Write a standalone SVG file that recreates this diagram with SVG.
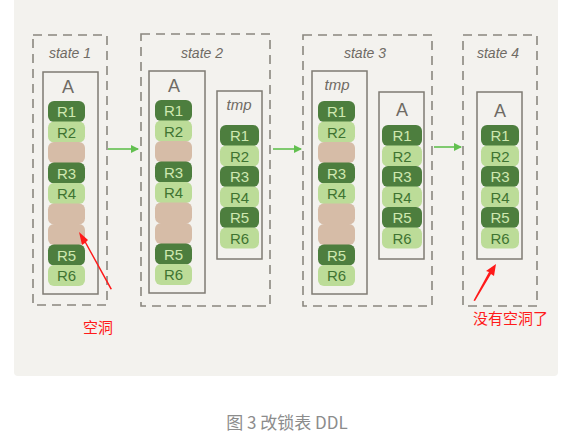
<svg xmlns="http://www.w3.org/2000/svg" width="587" height="438" viewBox="0 0 587 438">
<defs>
<style>
.state{fill:none;stroke:#8a877f;stroke-width:1.6;stroke-dasharray:9 6}
.tbl{fill:none;stroke:#7f7b73;stroke-width:1.5}
.lbl{font-family:"Liberation Sans",sans-serif;font-style:italic;font-size:14px;fill:#6f6b64;text-anchor:middle}
.tname{font-family:"Liberation Sans",sans-serif;font-size:18px;fill:#6f6b64;text-anchor:middle}
.tmpn{font-family:"Liberation Sans",sans-serif;font-style:italic;font-size:15px;fill:#6f6b64;text-anchor:middle}
.d{fill:#4d7e3e}
.l{fill:#bcdc98}
.h{fill:#d6bca7}
.dt{font-family:"Liberation Sans",sans-serif;font-size:15px;fill:#cfe8b0;text-anchor:middle}
.lt{font-family:"Liberation Sans",sans-serif;font-size:15px;fill:#3f7432;text-anchor:middle}
.ga{stroke:#62c04f;stroke-width:1.6;fill:none}
.red{font-family:"Liberation Sans","Noto Sans CJK SC",sans-serif;font-size:15px;fill:#ff1a1a}
</style>
<marker id="gh" markerWidth="8" markerHeight="8" refX="7" refY="4" orient="auto" markerUnits="userSpaceOnUse">
<path d="M0,0 L8,4 L0,8 Z" fill="#62c04f"/>
</marker>
</defs>
<rect x="14" y="-6" width="544" height="382" rx="4" fill="#f3f2ee"/>

<g id="state1">
<rect class="state" x="33" y="35" width="74" height="270"/>
<text class="lbl" x="70" y="58">state 1</text>
<rect class="tbl" x="43" y="72" width="55" height="222"/>
<text class="tname" x="68" y="93">A</text>
<rect class="d" x="48" y="101" width="37" height="21" rx="6"/><text class="dt" x="66.5" y="117">R1</text>
<rect class="l" x="48" y="121.5" width="37" height="21" rx="6"/><text class="lt" x="66.5" y="137.5">R2</text>
<rect class="h" x="48" y="142" width="37" height="21" rx="6"/>
<rect class="d" x="48" y="162.5" width="37" height="21" rx="6"/><text class="dt" x="66.5" y="178.5">R3</text>
<rect class="l" x="48" y="183" width="37" height="21" rx="6"/><text class="lt" x="66.5" y="199">R4</text>
<rect class="h" x="48" y="203.5" width="37" height="21" rx="6"/>
<rect class="h" x="48" y="224" width="37" height="21" rx="6"/>
<rect class="d" x="48" y="244.5" width="37" height="21" rx="6"/><text class="dt" x="66.5" y="260.5">R5</text>
<rect class="l" x="48" y="265" width="37" height="21" rx="6"/><text class="lt" x="66.5" y="281">R6</text>
</g>

<g id="state2">
<rect class="state" x="141" y="34" width="129" height="272"/>
<text class="lbl" x="202" y="58">state 2</text>
<rect class="tbl" x="149" y="71" width="56" height="222"/>
<text class="tname" x="174" y="92">A</text>
<rect class="d" x="155" y="100" width="37" height="21" rx="6"/><text class="dt" x="173.5" y="116">R1</text>
<rect class="l" x="155" y="120.5" width="37" height="21" rx="6"/><text class="lt" x="173.5" y="136.5">R2</text>
<rect class="h" x="155" y="141" width="37" height="21" rx="6"/>
<rect class="d" x="155" y="161.5" width="37" height="21" rx="6"/><text class="dt" x="173.5" y="177.5">R3</text>
<rect class="l" x="155" y="182" width="37" height="21" rx="6"/><text class="lt" x="173.5" y="198">R4</text>
<rect class="h" x="155" y="202.5" width="37" height="21" rx="6"/>
<rect class="h" x="155" y="223" width="37" height="21" rx="6"/>
<rect class="d" x="155" y="243.5" width="37" height="21" rx="6"/><text class="dt" x="173.5" y="259.5">R5</text>
<rect class="l" x="155" y="264" width="37" height="21" rx="6"/><text class="lt" x="173.5" y="280">R6</text>
<rect class="tbl" x="217" y="91" width="45" height="168"/>
<text class="tmpn" x="239" y="110">tmp</text>
<rect class="d" x="220" y="125" width="39" height="21" rx="6"/><text class="dt" x="239.5" y="141">R1</text>
<rect class="l" x="220" y="145.5" width="39" height="21" rx="6"/><text class="lt" x="239.5" y="161.5">R2</text>
<rect class="d" x="220" y="166" width="39" height="21" rx="6"/><text class="dt" x="239.5" y="182">R3</text>
<rect class="l" x="220" y="186.5" width="39" height="21" rx="6"/><text class="lt" x="239.5" y="202.5">R4</text>
<rect class="d" x="220" y="207" width="39" height="21" rx="6"/><text class="dt" x="239.5" y="223">R5</text>
<rect class="l" x="220" y="227.5" width="39" height="21" rx="6"/><text class="lt" x="239.5" y="243.5">R6</text>
</g>

<g id="state3">
<rect class="state" x="303" y="35" width="129" height="271"/>
<text class="lbl" x="365" y="58">state 3</text>
<rect class="tbl" x="312" y="71" width="55" height="223"/>
<text class="tmpn" x="337" y="90">tmp</text>
<rect class="d" x="318" y="101" width="37" height="21" rx="6"/><text class="dt" x="336.5" y="117">R1</text>
<rect class="l" x="318" y="121.5" width="37" height="21" rx="6"/><text class="lt" x="336.5" y="137.5">R2</text>
<rect class="h" x="318" y="142" width="37" height="21" rx="6"/>
<rect class="d" x="318" y="162.5" width="37" height="21" rx="6"/><text class="dt" x="336.5" y="178.5">R3</text>
<rect class="l" x="318" y="183" width="37" height="21" rx="6"/><text class="lt" x="336.5" y="199">R4</text>
<rect class="h" x="318" y="203.5" width="37" height="21" rx="6"/>
<rect class="h" x="318" y="224" width="37" height="21" rx="6"/>
<rect class="d" x="318" y="244.5" width="37" height="21" rx="6"/><text class="dt" x="336.5" y="260.5">R5</text>
<rect class="l" x="318" y="265" width="37" height="21" rx="6"/><text class="lt" x="336.5" y="281">R6</text>
<rect class="tbl" x="379" y="92" width="45" height="167"/>
<text class="tname" x="402" y="116">A</text>
<rect class="d" x="382" y="125" width="40" height="21" rx="6"/><text class="dt" x="402" y="141">R1</text>
<rect class="l" x="382" y="145.5" width="40" height="21" rx="6"/><text class="lt" x="402" y="161.5">R2</text>
<rect class="d" x="382" y="166" width="40" height="21" rx="6"/><text class="dt" x="402" y="182">R3</text>
<rect class="l" x="382" y="186.5" width="40" height="21" rx="6"/><text class="lt" x="402" y="202.5">R4</text>
<rect class="d" x="382" y="207" width="40" height="21" rx="6"/><text class="dt" x="402" y="223">R5</text>
<rect class="l" x="382" y="227.5" width="40" height="21" rx="6"/><text class="lt" x="402" y="243.5">R6</text>
</g>

<g id="state4">
<rect class="state" x="463" y="35" width="74" height="271"/>
<text class="lbl" x="498" y="58">state 4</text>
<rect class="tbl" x="477" y="92" width="45" height="167"/>
<text class="tname" x="500" y="117">A</text>
<rect class="d" x="481" y="125" width="38" height="21" rx="6"/><text class="dt" x="500" y="141">R1</text>
<rect class="l" x="481" y="145.5" width="38" height="21" rx="6"/><text class="lt" x="500" y="161.5">R2</text>
<rect class="d" x="481" y="166" width="38" height="21" rx="6"/><text class="dt" x="500" y="182">R3</text>
<rect class="l" x="481" y="186.5" width="38" height="21" rx="6"/><text class="lt" x="500" y="202.5">R4</text>
<rect class="d" x="481" y="207" width="38" height="21" rx="6"/><text class="dt" x="500" y="223">R5</text>
<rect class="l" x="481" y="227.5" width="38" height="21" rx="6"/><text class="lt" x="500" y="243.5">R6</text>
</g>

<g id="connectors">
<line class="ga" x1="108" y1="149" x2="138" y2="149" marker-end="url(#gh)"/>
<line class="ga" x1="273" y1="149" x2="301" y2="149" marker-end="url(#gh)"/>
<line class="ga" x1="434" y1="147" x2="461" y2="147" marker-end="url(#gh)"/>
<polygon points="112,289 110.5,289.5 85,243 82,245 79,232 88,240 86,242" fill="#ff1a1a"/>
<polygon points="475,301 473.5,300.5 489,272 486,271 496,264 494,276 491,274" fill="#ff1a1a"/>
</g>

<text class="red" x="83" y="333">空洞</text>
<text class="red" x="473" y="324">没有空洞了</text>
<text x="287" y="429" text-anchor="middle" font-family="'Noto Sans CJK SC','Liberation Sans',sans-serif" font-size="17" fill="#8c8c8c">图 3 改锁表 DDL</text>
</svg>
